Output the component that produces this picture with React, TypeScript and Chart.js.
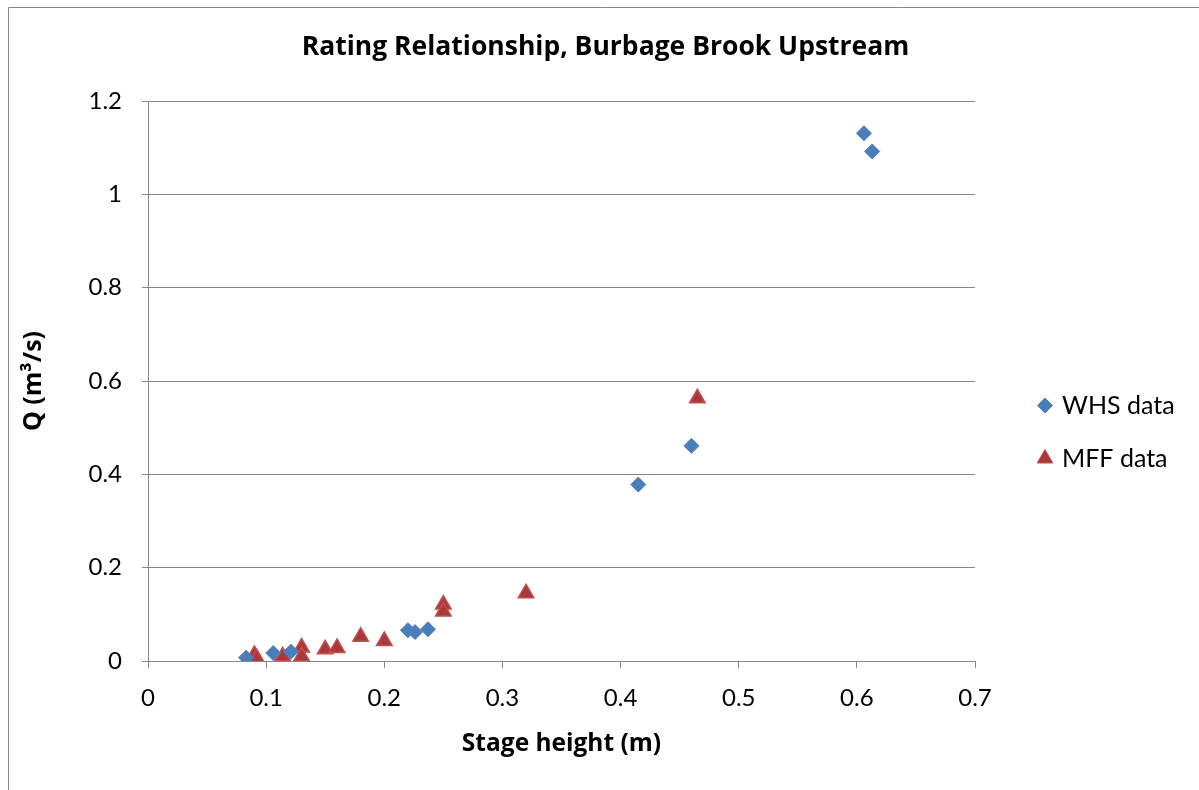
import React, { useEffect, useRef } from "react";
import { Chart, registerables } from "chart.js";
import { drawPoint } from "chart.js/helpers";

Chart.register(...registerables);

const CHART_TITLE = "Rating Relationship, Burbage Brook Upstream";
const X_TITLE = "Stage height (m)";
const Y_TITLE = "Q (m³/s)";
const SERIES_LABELS = ["WHS data", "MFF data"];

const whsStage = [0.083, 0.106, 0.121, 0.22, 0.226, 0.237, 0.415, 0.46, 0.606, 0.613];
const whsFlow = [0.007, 0.017, 0.02, 0.066, 0.062, 0.068, 0.378, 0.461, 1.131, 1.092];

const mffStage = [0.09, 0.092, 0.114, 0.13, 0.13, 0.15, 0.16, 0.18, 0.2, 0.25, 0.25, 0.32, 0.465];
const mffFlow = [0.013, 0.006, 0.01, 0.029, 0.01, 0.025, 0.028, 0.052, 0.043, 0.121, 0.106, 0.145, 0.563];

const X_MIN = 0;
const X_MAX = 0.7;
const X_STEP = 0.1;
const Y_MIN = 0;
const Y_MAX = 1.2;
const Y_STEP = 0.2;

const FONT = "Lato, 'Open Sans', sans-serif";
const BOLD_FONT = "'Open Sans', Lato, sans-serif";
const GRID = "#868686";

const fmt = (v: number) => String(Number(Number(v).toFixed(2)));

const frame = {
  id: "frame",
  beforeDraw(chart: any) {
    const { ctx, width, height } = chart;
    ctx.save();
    ctx.fillStyle = "#ffffff";
    ctx.fillRect(0, 0, width, height);
    ctx.strokeStyle = GRID;
    ctx.lineWidth = 1;
    ctx.beginPath();
    ctx.moveTo(8.5, height);
    ctx.lineTo(8.5, 7.5);
    ctx.lineTo(width, 7.5);
    ctx.stroke();
    ctx.restore();
  },
};

const titleAndLegend = {
  id: "titleAndLegend",
  afterDraw(chart: any) {
    const { ctx, width, chartArea } = chart;
    ctx.save();
    ctx.fillStyle = "#000";
    ctx.font = `bold 26.5px ${BOLD_FONT}`;
    ctx.textAlign = "center";
    ctx.textBaseline = "middle";
    ctx.fillText(CHART_TITLE, width / 2 + 6, 47);

    const cy = (chartArea.top + chartArea.bottom) / 2 + 51;
    const gap = 53;
    const x0 = chartArea.right + 70;
    chart.data.datasets.forEach((ds: any, i: number) => {
      const y = cy - gap / 2 + i * gap;
      ctx.fillStyle = ds.backgroundColor;
      ctx.strokeStyle = ds.borderColor;
      ctx.lineWidth = 1;
      drawPoint(ctx, { pointStyle: ds.pointStyle, radius: ds.pointRadius, rotation: 0, borderWidth: 1 }, x0, y);
      ctx.fillStyle = "#000";
      ctx.font = `25px ${FONT}`;
      ctx.textAlign = "left";
      ctx.textBaseline = "middle";
      ctx.fillText(ds.label, x0 + 17, y);
    });
    ctx.restore();
  },
};

export default function App() {
  const ref = useRef<HTMLCanvasElement | null>(null);

  useEffect(() => {
    if (!ref.current) return;
    const chart = new Chart(ref.current, {
      type: "scatter",
      data: {
        datasets: [
          {
            label: SERIES_LABELS[0],
            data: whsStage.map((x, i) => ({ x, y: whsFlow[i] })),
            pointStyle: "rectRot",
            pointRadius: 7.5,
            backgroundColor: "#4a7ebb",
            borderColor: "#4f81bd",
            borderWidth: 1,
          },
          {
            label: SERIES_LABELS[1],
            data: mffStage.map((x, i) => ({ x, y: mffFlow[i] })),
            pointStyle: "triangle",
            pointRadius: 9,
            backgroundColor: "#a9393a",
            borderColor: "#c0504d",
            borderWidth: 1.5,
          },
        ],
      },
      options: {
        animation: false,
        responsive: true,
        maintainAspectRatio: false,
        layout: { padding: { top: 101, right: 224, bottom: 0, left: 0 } },
        plugins: {
          legend: { display: false },
          title: { display: false },
          tooltip: { enabled: false },
        },
        scales: {
          x: {
            type: "linear",
            min: X_MIN,
            max: X_MAX,
            afterFit: (s: any) => {
              s.height = 129;
            },
            ticks: {
              stepSize: X_STEP,
              color: "#000",
              padding: 16,
              font: { family: FONT, size: 24 },
              callback: (v: any) => fmt(v),
            },
            grid: { drawOnChartArea: false, drawTicks: true, tickLength: 7, color: GRID },
            border: { display: true, color: GRID, width: 1 },
            title: {
              display: true,
              text: X_TITLE,
              color: "#000",
              font: { family: BOLD_FONT, size: 24.5, weight: "bold" },
              padding: { top: 0, bottom: 31 },
            },
          },
          y: {
            type: "linear",
            min: Y_MIN,
            max: Y_MAX,
            afterFit: (s: any) => {
              s.width = 148;
            },
            ticks: {
              stepSize: Y_STEP,
              color: "#000",
              padding: 20,
              font: { family: FONT, size: 24 },
              callback: (v: any) => fmt(v),
            },
            grid: { drawOnChartArea: true, drawTicks: true, tickLength: 6, color: GRID },
            border: { display: true, color: GRID, width: 1 },
            title: {
              display: true,
              text: Y_TITLE,
              color: "#000",
              font: { family: BOLD_FONT, size: 25, weight: "bold" },
              padding: { top: 19, bottom: 0 },
            },
          },
        },
      },
      plugins: [frame, titleAndLegend],
    });
    return () => chart.destroy();
  }, []);

  return (
    <div style={{ position: "fixed", left: 0, top: 0, width: 1199, height: 790 }}>
      <canvas ref={ref} />
    </div>
  );
}
